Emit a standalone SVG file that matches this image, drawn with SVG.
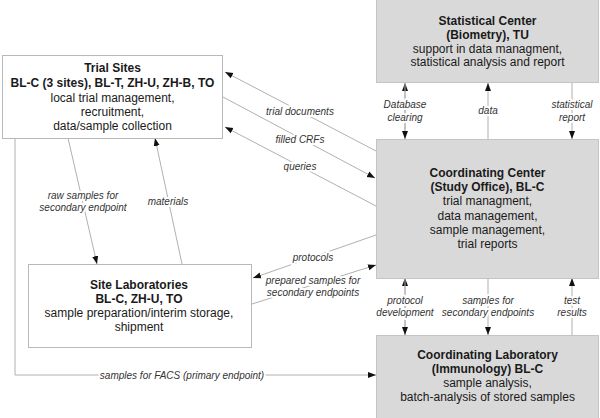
<svg xmlns="http://www.w3.org/2000/svg" width="600" height="418" viewBox="0 0 600 418">
<defs>
<marker id="ah" markerUnits="userSpaceOnUse" markerWidth="8" markerHeight="8" viewBox="0 0 8 8" refX="8" refY="4" orient="auto">
<path d="M0,1 L8,4 L0,7 Z" fill="#111"/>
</marker>
</defs>
<style>
.box{fill:#fff;stroke:#b8b8b8;stroke-width:1}
.gbox{fill:#d9d9d9;stroke:#c4c4c4;stroke-width:1}
.t{font-family:"Liberation Sans",Arial,sans-serif;font-size:12px;fill:#1a1a1a;text-anchor:middle}
.b{font-weight:bold}
.c{fill:none;stroke:#b0b0b0;stroke-width:1}
.l{font-family:"Liberation Sans",Arial,sans-serif;font-size:10px;font-style:italic;fill:#333;text-anchor:middle;stroke:#fff;stroke-width:4;paint-order:stroke;stroke-linejoin:round}
</style>
<rect width="600" height="418" fill="#fff"/>
<g id="connectors">
<line class="c" x1="405" y1="139" x2="405" y2="83" marker-end="url(#ah)"/>
<line class="c" x1="405" y1="83" x2="405" y2="139" marker-end="url(#ah)"/>
<line class="c" x1="488" y1="139" x2="488" y2="83" marker-end="url(#ah)"/>
<line class="c" x1="572" y1="83" x2="572" y2="139" marker-end="url(#ah)"/>
<text class="l" x="405" y="108">Database</text>
<text class="l" x="405" y="121">clearing</text>
<text class="l" x="488" y="114">data</text>
<text class="l" x="572" y="108">statistical</text>
<text class="l" x="572" y="121">report</text>
<line class="c" x1="376" y1="151" x2="225" y2="72" marker-end="url(#ah)"/>
<line class="c" x1="223" y1="97" x2="375" y2="178" marker-end="url(#ah)"/>
<line class="c" x1="376" y1="206" x2="225" y2="127" marker-end="url(#ah)"/>
<text class="l" x="300" y="115">trial documents</text>
<text class="l" x="300" y="143">filled CRFs</text>
<text class="l" x="300" y="170">queries</text>
<line class="c" x1="68" y1="138" x2="97" y2="264" marker-end="url(#ah)"/>
<line class="c" x1="182" y1="264" x2="155" y2="138" marker-end="url(#ah)"/>
<text class="l" x="83" y="199">raw samples for</text>
<text class="l" x="83" y="211">secondary endpoint</text>
<text class="l" x="168" y="205">materials</text>
<polyline class="c" points="15,138 15,375 376,375" marker-end="url(#ah)"/>
<text class="l" x="182" y="378.5">samples for FACS (primary endpoint)</text>
<line class="c" x1="376" y1="235" x2="253" y2="278" marker-end="url(#ah)"/>
<line class="c" x1="252" y1="304" x2="376" y2="265" marker-end="url(#ah)"/>
<text class="l" x="313" y="260.5">protocols</text>
<text class="l" x="313" y="284">prepared samples for</text>
<text class="l" x="313" y="296">secondary endpoints</text>
<line class="c" x1="405" y1="335" x2="405" y2="278" marker-end="url(#ah)"/>
<line class="c" x1="405" y1="278" x2="405" y2="335" marker-end="url(#ah)"/>
<line class="c" x1="488" y1="278" x2="488" y2="335" marker-end="url(#ah)"/>
<line class="c" x1="572" y1="335" x2="572" y2="278" marker-end="url(#ah)"/>
<text class="l" x="405" y="304">protocol</text>
<text class="l" x="405" y="316">development</text>
<text class="l" x="488" y="304">samples for</text>
<text class="l" x="488" y="316">secondary endpoints</text>
<text class="l" x="572" y="304">test</text>
<text class="l" x="572" y="316">results</text>
</g>
<g id="stat">
<rect class="gbox" x="376.5" y="-1" width="222" height="83.5"/>
<text class="t b" x="487.5" y="25">Statistical Center</text>
<text class="t b" x="487.5" y="39">(Biometry), TU</text>
<text class="t" x="487.5" y="52.5">support in data managment,</text>
<text class="t" x="487.5" y="66">statistical analysis and report</text>
</g>
<g id="trial">
<rect class="box" x="2.5" y="55.5" width="220" height="83"/>
<text class="t b" x="112.5" y="72">Trial Sites</text>
<text class="t b" x="112.5" y="87">BL-C (3 sites), BL-T, ZH-U, ZH-B, TO</text>
<text class="t" x="112.5" y="101.5">local trial management,</text>
<text class="t" x="112.5" y="116">recruitment,</text>
<text class="t" x="112.5" y="130">data/sample collection</text>
</g>
<g id="coordcenter">
<rect class="gbox" x="376.5" y="139.5" width="222" height="139"/>
<text class="t b" x="487.5" y="177">Coordinating Center</text>
<text class="t b" x="487.5" y="191">(Study Office), BL-C</text>
<text class="t" x="487.5" y="205">trial managment,</text>
<text class="t" x="487.5" y="219.5">data management,</text>
<text class="t" x="487.5" y="234">sample management,</text>
<text class="t" x="487.5" y="248">trial reports</text>
</g>
<g id="sitelabs">
<rect class="box" x="28.5" y="264.5" width="223" height="83"/>
<text class="t b" x="139" y="289">Site Laboratories</text>
<text class="t b" x="139" y="303">BL-C, ZH-U, TO</text>
<text class="t" x="139" y="317">sample preparation/interim storage,</text>
<text class="t" x="139" y="331">shipment</text>
</g>
<g id="coordlab">
<rect class="gbox" x="376.5" y="335.5" width="222" height="83"/>
<text class="t b" x="487.5" y="359">Coordinating Laboratory</text>
<text class="t b" x="487.5" y="373">(Immunology) BL-C</text>
<text class="t" x="487.5" y="387">sample analysis,</text>
<text class="t" x="487.5" y="401">batch-analysis of stored samples</text>
</g>
</svg>
